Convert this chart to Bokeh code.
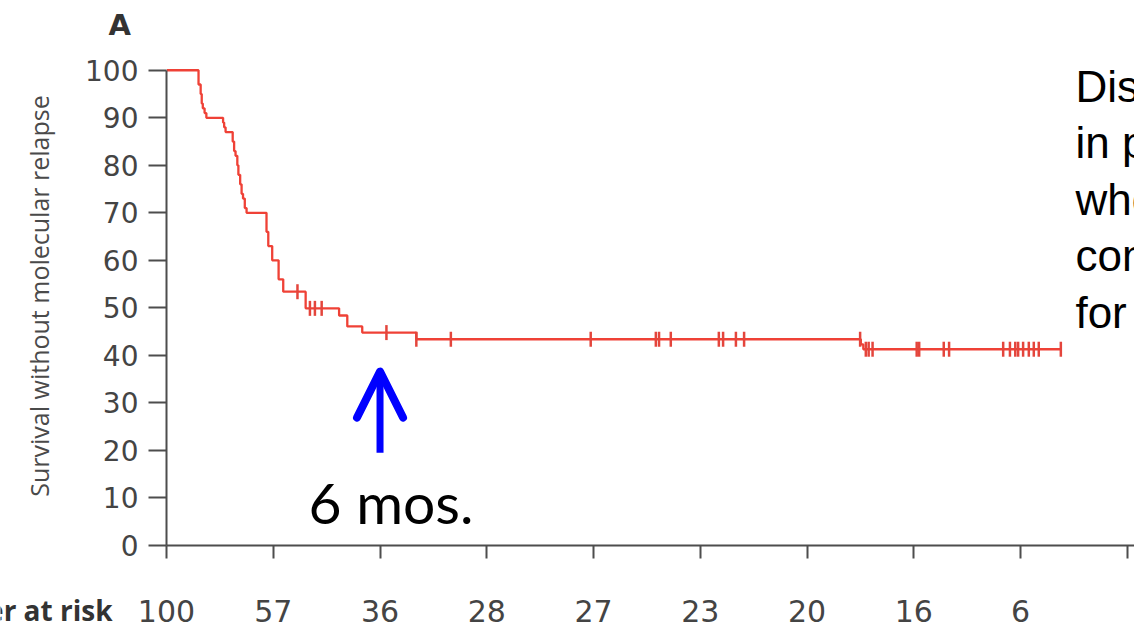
import numpy as np
from bokeh.plotting import figure
from bokeh.layouts import column
from bokeh.models import Range1d, Label, Arrow, OpenHead, FixedTicker
from bokeh.core.properties import value
from bokeh.embed import file_html
from bokeh.resources import INLINE

# ---------------- data ----------------
# Kaplan-Meier step curve: months since stop, survival without molecular relapse (%)
KM_TIME = [0, 0.90, 0.96, 0.99, 1.02, 1.07, 1.12, 1.59, 1.62, 1.66,
           1.86, 1.90, 1.94, 1.99, 2.02, 2.07, 2.11, 2.15, 2.20, 2.25,
           2.81, 2.86, 2.97, 3.15, 3.28, 3.91, 4.85, 5.08, 5.50, 7.02,
           19.51, 19.58, 25.13]
KM_SURV = [100, 97, 95, 93, 92, 91, 90, 89, 88, 87,
           85, 83, 82, 80, 78, 76, 74, 73, 71, 70,
           66, 63, 60, 56, 53.4, 49.9, 48.4, 46.1, 44.8, 43.4,
           42.3, 41.3, 41.3]

# censored observations
CENS_TIME = [3.68, 4.03, 4.17, 4.36, 6.18, 7.02, 7.99, 11.92, 13.75, 13.84,
             14.17, 15.52, 15.64, 16.00, 16.23, 19.49, 19.65, 19.73, 19.84, 21.08,
             21.15, 21.84, 21.99, 23.51, 23.70, 23.85, 23.93, 24.07, 24.23, 24.37,
             24.51, 25.13]
CENS_SURV = [53.4, 49.9, 49.9, 49.9, 44.8, 43.4, 43.4, 43.4, 43.4, 43.4,
             43.4, 43.4, 43.4, 43.4, 43.4, 43.4, 41.3, 41.3, 41.3, 41.3,
             41.3, 41.3, 41.3, 41.3, 41.3, 41.3, 41.3, 41.3, 41.3, 41.3,
             41.3, 41.3]

X_TICKS = [0, 3, 6, 9, 12, 15, 18, 21, 24, 27]
Y_TICKS = [0, 10, 20, 30, 40, 50, 60, 70, 80, 90, 100]
RISK_TIME = [0, 3, 6, 9, 12, 15, 18, 21, 24]
AT_RISK = [100, 57, 36, 28, 27, 23, 20, 16, 6]
RISK_TITLE = "Number at risk"

ARROW_MONTH = 6
ARROW_TEXT = "6 mos."
PANEL = "A"
YLABEL = "Survival without molecular relapse"
SIDE_TEXT = ["Discontinuation of imatinib", "in patients with CML",
             "who have maintained", "complete molecular remission",
             "for at least 2 years"]

RED = "#ef4136"
RED_TICK = "#e4453c"
AX = "#4d4d4d"
TXT = "#444444"

# ---------------- layout constants ----------------
W = 1134
TOP_H = 590
BOT_H = 34
FRAME_LEFT = 166
X_MAX = 27.2
PX_PER_MONTH = (W - FRAME_LEFT) / X_MAX
RISK_BASE = 14

# ---------------- main figure ----------------
p = figure(width=W, height=TOP_H, output_backend="svg", toolbar_location=None,
           x_range=Range1d(0, X_MAX), y_range=Range1d(0, 105),
           min_border_left=FRAME_LEFT, min_border_right=0, min_border_top=45,
           min_border_bottom=45)
p.frame_align = False
p.outline_line_color = None
p.grid.visible = False
p.background_fill_color = "white"
p.border_fill_color = "white"

p.title.text = PANEL
p.title.align = "left"
p.title.offset = -58
p.title.text_font = "DejaVu Sans"
p.title.text_font_style = "bold"
p.title.text_font_size = "29px"
p.title.text_color = "#333333"
p.title.standoff = 10

# axes
p.xaxis.ticker = FixedTicker(ticks=X_TICKS)
p.xaxis.major_label_text_color = None
p.xaxis.axis_line_color = AX
p.xaxis.axis_line_width = 2
p.xaxis.major_tick_line_color = AX
p.xaxis.major_tick_line_width = 2
p.xaxis.major_tick_out = 13
p.xaxis.major_tick_in = 0
p.xaxis.minor_tick_line_color = None

p.yaxis.ticker = FixedTicker(ticks=Y_TICKS)
p.yaxis.bounds = (0, 100)
p.yaxis.axis_line_color = AX
p.yaxis.axis_line_width = 2
p.yaxis.major_tick_line_color = AX
p.yaxis.major_tick_line_width = 2
p.yaxis.major_tick_out = 18
p.yaxis.major_tick_in = 0
p.yaxis.minor_tick_line_color = None
p.yaxis.major_label_standoff = 10
p.yaxis.major_label_text_font = "DejaVu Sans"
p.yaxis.major_label_text_font_size = "28px"
p.yaxis.major_label_text_color = TXT
p.yaxis.axis_label = YLABEL
p.yaxis.axis_label_text_font = "Open Sans"
p.yaxis.axis_label_text_font_style = "normal"
p.yaxis.axis_label_text_font_size = "25px"
p.yaxis.axis_label_text_color = "#4a4a4a"
p.yaxis.axis_label_standoff = 26

# KM curve
p.step(x=KM_TIME, y=KM_SURV, mode="after", line_color=RED, line_width=2.3)
p.scatter(x=CENS_TIME, y=CENS_SURV, marker="dash", angle=np.pi / 2, size=15,
          line_color=RED_TICK, line_width=2.5)

# blue arrow + annotation
p.add_layout(Arrow(end=OpenHead(size=46, line_color="#0000ff", line_width=8,
                                line_cap="round", line_join="round"),
                   x_start=ARROW_MONTH, y_start=19.5, x_end=ARROW_MONTH, y_end=36.6,
                   line_color="#0000ff", line_width=7))
p.add_layout(Label(x=3.99, y=9.2, text=ARROW_TEXT, text_align="left",
                   text_baseline="alphabetic", text_font="Lato",
                   text_font_size="57px", text_color="black"))

# slide text on the right (cut by the window edge)
for i, line in enumerate(SIDE_TEXT):
    p.add_layout(Label(x=25.54, y=96.6 - i * 11.87, text=line, text_align="left",
                       text_baseline="alphabetic", text_font="Liberation Sans",
                       text_font_size="44px", text_color="black"))

# ---------------- number-at-risk strip ----------------
q = figure(width=W, height=BOT_H, output_backend="svg", toolbar_location=None,
           x_range=Range1d(-FRAME_LEFT / PX_PER_MONTH, X_MAX), y_range=Range1d(0, BOT_H),
           min_border_left=0, min_border_right=0, min_border_top=0, min_border_bottom=0)
q.frame_align = False
q.axis.visible = False
q.grid.visible = False
q.outline_line_color = None
q.background_fill_color = "white"
q.border_fill_color = "white"

q.text(x=RISK_TIME, y=[RISK_BASE] * len(RISK_TIME), text=[str(n) for n in AT_RISK],
       text_align="center", text_baseline="alphabetic",
       text_font=value("DejaVu Sans"), text_font_size="30px", text_color=TXT)
q.text(x=[-54 / PX_PER_MONTH], y=[RISK_BASE + 1], text=[RISK_TITLE],
       text_align="right", text_baseline="alphabetic",
       text_font=value("Open Sans"), text_font_style="bold",
       text_font_size="28px", text_color="#333333")

layout = column(p, q, spacing=0)
open("out.html", "w").write(file_html(layout, INLINE))
